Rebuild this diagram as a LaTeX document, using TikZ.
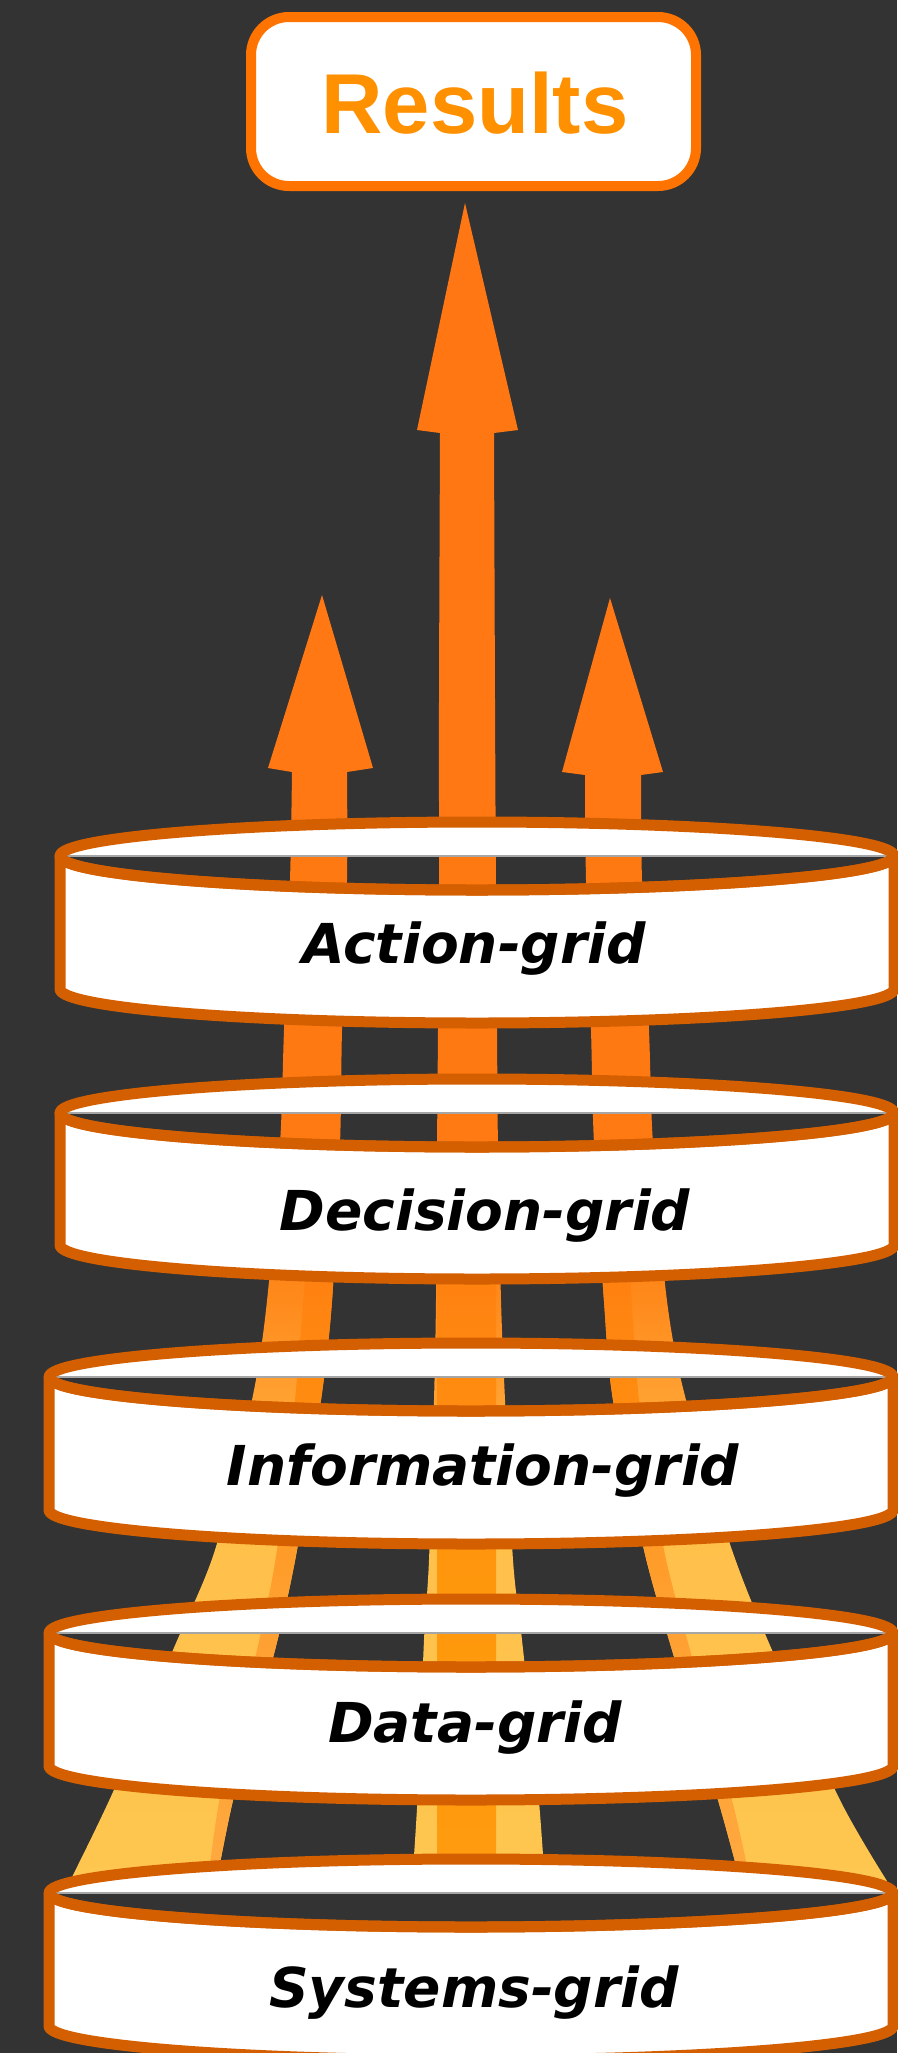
\documentclass[tikz,border=0pt]{standalone}
\usepackage{fontspec}
\newfontfamily\gridfont{DejaVu Sans Bold Oblique}
\newfontfamily\resfont{Liberation Sans}
\definecolor{bg}{HTML}{333333}
\definecolor{ringc}{HTML}{D45F00}
\definecolor{boxc}{HTML}{FF7400}
\definecolor{restxtc}{HTML}{FF9000}
\definecolor{aor}{HTML}{FF7514}
\definecolor{aor2}{HTML}{FF7A12}
\definecolor{amid0}{HTML}{FF8A1C}
\definecolor{amid1}{HTML}{FFA232}
\definecolor{amid2}{HTML}{FFC04A}
\definecolor{ayel}{HTML}{FDCA52}
\definecolor{core1}{HTML}{FF8C10}
\definecolor{core2}{HTML}{FF980C}
\definecolor{core3}{HTML}{FF9D10}
\definecolor{side2}{HTML}{FFA030}
\definecolor{side3}{HTML}{FFAE48}
\pgfdeclareverticalshading{arrowshade}{100bp}{color(0bp)=(ayel); color(25bp)=(ayel); color(37.98bp)=(amid2); color(40.9bp)=(amid1); color(43.34bp)=(amid0); color(45.77bp)=(aor2); color(75bp)=(aor); color(100bp)=(aor)}
\pgfdeclareverticalshading{coreshade}{100bp}{color(0bp)=(core3); color(25bp)=(core3); color(36.03bp)=(core2); color(40.9bp)=(core1); color(45.77bp)=(aor2); color(75bp)=(aor2); color(100bp)=(aor2)}
\pgfdeclareverticalshading{sideshade}{100bp}{color(0bp)=(side3); color(25bp)=(side3); color(36.03bp)=(side2); color(40.9bp)=(core1); color(45.77bp)=(aor2); color(75bp)=(aor2); color(100bp)=(aor2)}
\tikzset{
  ringline/.style={draw=ringc, line width=11pt, fill=white, line join=round},
  ringedge/.style={draw=ringc, line width=11pt, line join=round},
  midline/.style={draw=gray!70, line width=1.2pt},
  resbox/.style={draw=boxc, line width=10pt, fill=white, rounded corners=38pt,
    minimum width=445pt, minimum height=169pt, inner sep=0pt},
  restext/.style={text=restxtc, font=\resfont\bfseries\fontsize{85}{90}\selectfont, inner sep=0pt},
  gridtext/.style={text=black, font=\gridfont\fontsize{55}{60}\selectfont, inner sep=0pt}
}
\def\ringry{34}
\newcommand\gridring[4]{%
  \fill[white] ({#1-#2},#3) arc[start angle=180,end angle=360,x radius=#2,y radius=\ringry] -- cycle;
  \draw[ringline] ({#1-#2},#3) -- ({#1-#2},#4)
     arc[start angle=180,end angle=0,x radius=#2,y radius=\ringry]
     -- ({#1+#2},#3)
     arc[start angle=0,end angle=180,x radius=#2,y radius=\ringry] -- cycle;
  \draw[midline] ({#1-#2+8},#3) -- ({#1+#2-8},#3);
  \draw[ringedge] (#1,#3) ellipse[x radius=#2,y radius=\ringry];
}
\begin{document}
\begin{tikzpicture}[x=1pt,y=-1pt]
\useasboundingbox (0,0) rectangle (897,2053);
\fill[bg] (0,0) rectangle (897,2053);

% ---- central arrow ----
\begin{scope}
\clip (440,433) -- (417,430) -- (465,203) -- (518,430) -- (494,433)
  -- plot[smooth] coordinates {(494,433) (495,700) (496,900) (497,1030) (498,1150) (501,1300) (505,1400) (513,1560) (522,1640) (538,1790) (545,1885)}
  -- plot[smooth] coordinates {(412,1885) (418,1790) (424,1640) (429,1560) (434,1400) (436,1300) (437,1150) (438,1030) (439,900) (439,700) (440,433)}
  -- cycle;
\shade[shading=arrowshade] (0,0) rectangle (897,2053);
\clip (437,1150) rectangle (496,1900);
\shade[shading=coreshade] (0,0) rectangle (897,2053);
\end{scope}

% ---- left arrow ----
\begin{scope}
\clip (292,772) -- (268,768) -- (322,595) -- (373,768) -- (347,772)
  -- plot[smooth] coordinates {(347,772) (347,880) (342,1030) (340,1144) (332,1301) (321,1400) (297,1550) (275,1650) (235,1792) (216,1885)}
  -- plot[smooth] coordinates {(68,1885) (113,1792) (173,1650) (215,1550) (252,1400) (267,1301) (280,1144) (284,1030) (290,880) (292,772)}
  -- cycle;
\shade[shading=arrowshade] (0,0) rectangle (897,2053);
\clip plot[smooth] coordinates {(307,1250) (295,1400) (277,1550) (257,1650) (221,1792) (207,1890)}
  -- plot[smooth] coordinates {(240,1890) (258,1792) (298,1650) (320,1550) (344,1400) (357,1250)} -- cycle;
\shade[shading=sideshade] (0,0) rectangle (897,2053);
\end{scope}

% ---- right arrow ----
\begin{scope}
\clip (585,775) -- (562,772) -- (610,598) -- (663,772) -- (641,775)
  -- plot[smooth] coordinates {(641,775) (642,880) (649,1030) (653,1144) (667,1301) (686,1400) (732,1550) (772,1650) (840,1800) (887,1881)}
  -- (742,1888)
  -- plot[smooth] coordinates {(742,1888) (718,1800) (672,1650) (644,1550) (613,1400) (604,1301) (594,1144) (591,1030) (586,880) (585,775)}
  -- cycle;
\shade[shading=arrowshade] (0,0) rectangle (897,2053);
\clip plot[smooth] coordinates {(629,1250) (639,1400) (664,1550) (690,1650) (732,1800) (752,1890)}
  -- plot[smooth] coordinates {(720,1890) (698,1800) (652,1650) (624,1550) (593,1400) (581,1250)} -- cycle;
\shade[shading=sideshade] (0,0) rectangle (897,2053);
\end{scope}

% ---- rings ----
\gridring{477}{417}{856}{989}
\gridring{477}{417}{1113}{1245}
\gridring{471}{422}{1377}{1510}
\gridring{471}{422}{1633}{1766}
\gridring{471}{422}{1893}{2026}

\node[gridtext, anchor=base] (action) at (474,963) {Action-grid};
\node[gridtext, anchor=base] (decision) at (485,1230) {Decision-grid};
\node[gridtext, anchor=base] (information) at (483,1485) {Information-grid};
\node[gridtext, anchor=base] (data) at (475,1742) {Data-grid};
\node[gridtext, anchor=base] (systems) at (474,2007) {Systems-grid};

% ---- results box ----
\node[resbox] (results) at (473.5,101.5) {};
\node[restext, anchor=base] (restxt) at (475,133) {Results};
\end{tikzpicture}
\end{document}
